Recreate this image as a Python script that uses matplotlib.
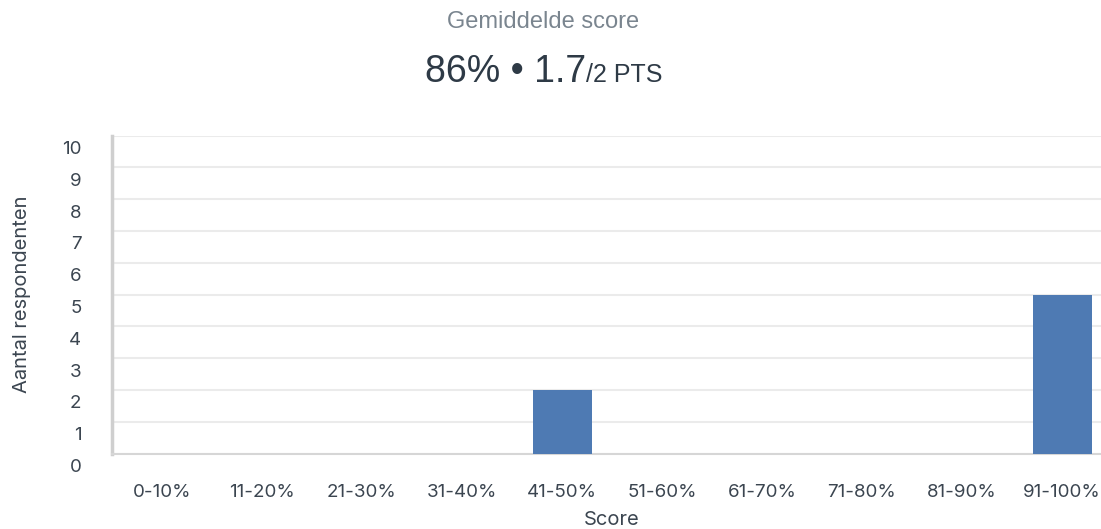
import matplotlib.pyplot as plt
import matplotlib.transforms as mtransforms

# data
categorieen = ['0-10%', '11-20%', '21-30%', '31-40%', '41-50%',
               '51-60%', '61-70%', '71-80%', '81-90%', '91-100%']
aantal = [0, 0, 0, 0, 2, 0, 0, 0, 0, 5]
y_ticks = list(range(0, 11))

fig = plt.figure(figsize=(11.01, 5.29), dpi=100)
W, H = 1101, 529

# assen lopen iets buiten de rechterrand door, net als in het origineel
ax = fig.add_axes([112 / W, (H - 453.5) / H, 1000 / W, 318 / H])
ax.bar(range(len(categorieen)), aantal, width=0.59, color='#4e7ab3', zorder=3)

ax.set_xlim(-0.5, len(categorieen) - 0.5)
ax.set_ylim(0, 10)
ax.set_yticks(y_ticks)
ax.set_xticks(range(len(categorieen)))
ax.set_xticklabels(categorieen)

tekst_kleur = '#3b4550'
ax.tick_params(axis='both', length=0, labelsize=13.5, labelcolor=tekst_kleur)
ax.tick_params(axis='y', pad=22)
ax.tick_params(axis='x', pad=22)
for lbl in ax.get_yticklabels() + ax.get_xticklabels():
    lbl.set_fontfamily('Inter')

# y-labels staan iets lager dan de rasterlijnen
offset = mtransforms.ScaledTranslation(0, -0.12, fig.dpi_scale_trans)
for lbl in ax.get_yticklabels():
    lbl.set_transform(lbl.get_transform() + offset)

ax.grid(axis='y', color='#ebebeb', linewidth=1.5, zorder=0)
ax.grid(axis='x', visible=False)
for s in ['top', 'right']:
    ax.spines[s].set_visible(False)
ax.spines['left'].set_color('#cfcfcf')
ax.spines['left'].set_linewidth(2.5)
ax.spines['bottom'].set_color('#d6d6d6')
ax.spines['bottom'].set_linewidth(1.5)

ax.set_ylabel('Aantal respondenten', fontsize=14.5, family='Inter', color=tekst_kleur)
ax.set_xlabel('Score', fontsize=14.5, family='Inter', color=tekst_kleur)
ax.yaxis.set_label_coords(-0.081, 0.5)
ax.xaxis.set_label_coords(0.5, -0.18)

# titels
fig.text(543 / W, 1 - 28 / H, 'Gemiddelde score', ha='center', va='baseline',
         fontsize=17, family='Liberation Sans', color='#7a858f')
t1 = fig.text(425 / W, 1 - 82 / H, '86% • 1.7', ha='left', va='baseline',
              fontsize=27, family='Liberation Sans', color='#2e3a46')
fig.canvas.draw()
bb = t1.get_window_extent()
fig.text(bb.x1 / W, 1 - 82 / H, '/2 PTS', ha='left', va='baseline',
         fontsize=18, family='Liberation Sans', color='#2e3a46')

plt.savefig('out.png', dpi=100)
